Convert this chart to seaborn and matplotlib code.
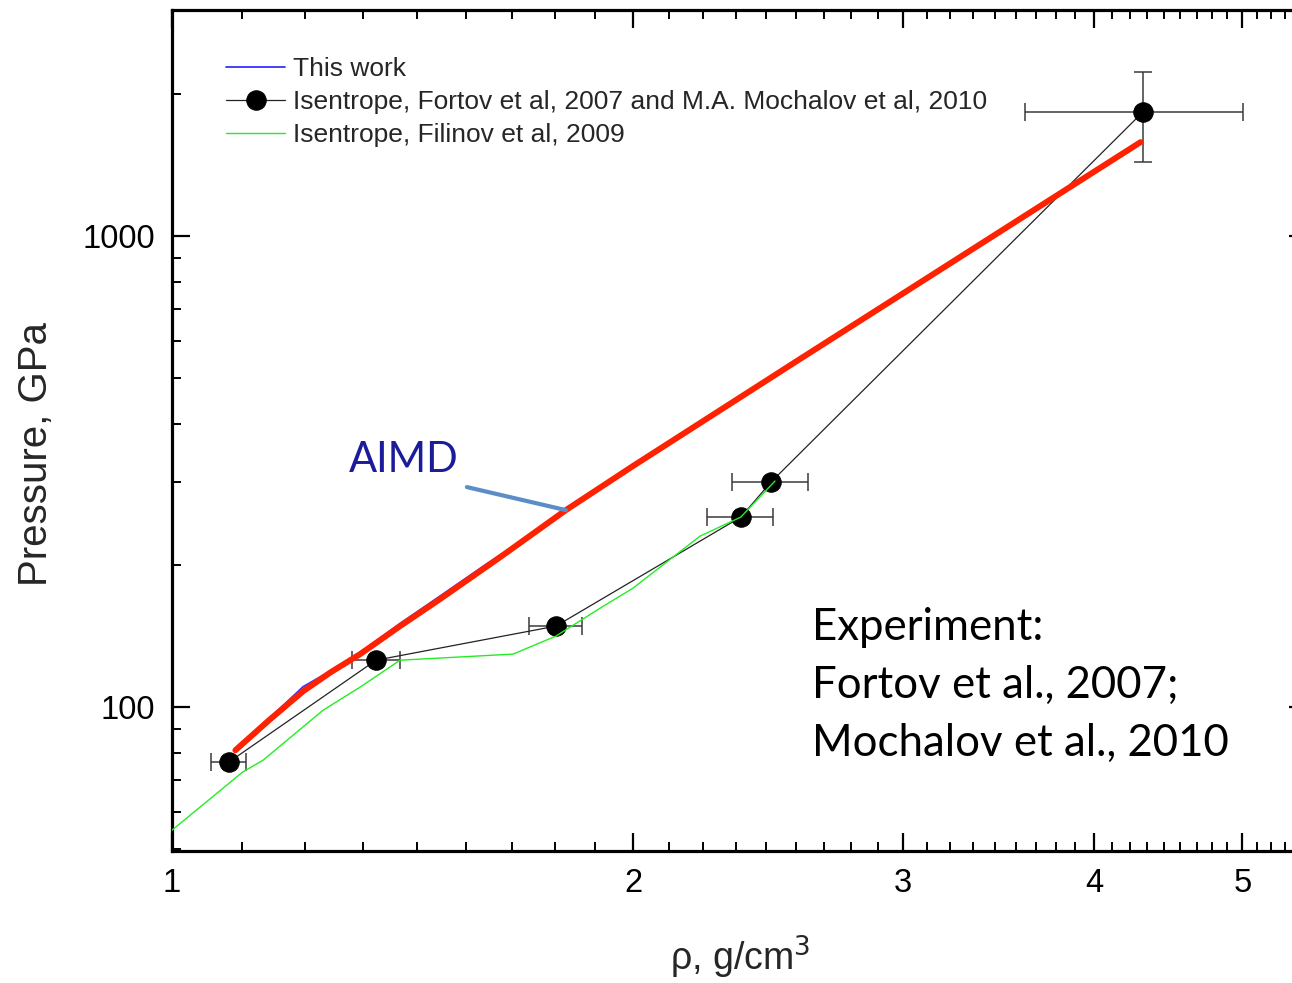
import numpy as np
import pandas as pd
import matplotlib
matplotlib.use("Agg")
import matplotlib.pyplot as plt
from matplotlib.ticker import FixedLocator, NullFormatter, FixedFormatter, LogLocator
import seaborn as sns

# ---------------- data ----------------
# AIMD (red thick curve) and This work (blue thin curve underneath)
aimd_rho = [1.10, 1.157, 1.218, 1.270, 1.327, 1.409, 1.496, 1.638, 1.808, 2.00, 2.57, 4.29]
aimd_p = [81, 93.8, 108.1, 118.7, 129.6, 148.6, 169.5, 208.2, 262, 325, 548, 1583]

this_rho = [1.10, 1.157, 1.218, 1.270, 1.327, 1.409, 1.496, 1.60, 1.70, 1.808, 2.00, 2.57, 4.29]
this_p = [81, 94.5, 110.5, 119.5, 130.5, 150.5, 172, 200, 228, 263, 326, 550, 1583]

# Experiment: Fortov 2007 / Mochalov 2010
exp_rho = [1.089, 1.359, 1.781, 2.352, 2.461, 4.305]
exp_p = [76.4, 125.8, 148.6, 253.2, 300.4, 1834]
exp_rho_err = [0.029, 0.049, 0.070, 0.117, 0.140, 0.70]
exp_p_err = [0, 0, 0, 0, 0, 400]

# Filinov 2009
fil_rho = [1.00, 1.112, 1.147, 1.255, 1.327, 1.409, 1.670, 1.781, 1.904, 2.00, 2.212, 2.352, 2.476]
fil_p = [54.8, 72.8, 77.2, 98.5, 110.3, 125.8, 129.6, 141.5, 162.3, 178.9, 230.7, 253.2, 302]

legend_labels = ["This work",
                 "Isentrope, Fortov et al, 2007 and M.A. Mochalov et al, 2010",
                 "Isentrope, Filinov et al, 2009"]
x_major = [1, 2, 3, 4, 5]
x_major_labels = ["1", "2", "3", "4", "5"]
y_major = [100, 1000]
y_major_labels = ["100", "1000"]

# ---------------- style ----------------
sns.set_theme(style="ticks")
plt.rcParams["font.family"] = ["Liberation Sans", "DejaVu Sans"]

W, H = 1292, 983
fig = plt.figure(figsize=(W / 100, H / 100), dpi=100)
ax_left, ax_right, ax_top, ax_bot = 172, 1307, 10, 851
ax = fig.add_axes([ax_left / W, 1 - ax_bot / H, (ax_right - ax_left) / W, (ax_bot - ax_top) / H])

ax.set_xscale("log")
ax.set_yscale("log")
ax.set_xlim(1.0, 5.51)
ax.set_ylim(49.5, 3020)

df_this = pd.DataFrame({"rho": this_rho, "p": this_p})
df_aimd = pd.DataFrame({"rho": aimd_rho, "p": aimd_p})
df_exp = pd.DataFrame({"rho": exp_rho, "p": exp_p})
df_fil = pd.DataFrame({"rho": fil_rho, "p": fil_p})

# experiment error bars
ax.errorbar(exp_rho, exp_p, xerr=exp_rho_err, yerr=exp_p_err, fmt="none",
            ecolor="#3a3a3a", elinewidth=1.1, capsize=6.5, capthick=1.1, zorder=2)

sns.lineplot(data=df_exp, x="rho", y="p", sort=False, estimator=None, ax=ax,
             color="#222222", lw=0.9, marker="o", markersize=14,
             markeredgecolor="black", markerfacecolor="black",
             label=legend_labels[1], zorder=3)
sns.lineplot(data=df_fil, x="rho", y="p", sort=False, estimator=None, ax=ax,
             color="#22ee22", lw=1.0, label=legend_labels[2], zorder=4)
sns.lineplot(data=df_this, x="rho", y="p", sort=False, estimator=None, ax=ax,
             color="#3333ff", lw=1.3, label=legend_labels[0], zorder=4)
sns.lineplot(data=df_aimd, x="rho", y="p", sort=False, estimator=None, ax=ax,
             color="#ff2200", lw=4.3, label="_nolegend_", zorder=5)

# ticks
ax.xaxis.set_major_locator(FixedLocator(x_major))
ax.xaxis.set_major_formatter(FixedFormatter(x_major_labels))
x_minor = [n + k / 9 for n in range(1, 6) for k in range(1, 9)]
ax.xaxis.set_minor_locator(FixedLocator(x_minor))
ax.xaxis.set_minor_formatter(NullFormatter())
ax.yaxis.set_major_locator(FixedLocator(y_major))
ax.yaxis.set_major_formatter(FixedFormatter(y_major_labels))
ax.yaxis.set_minor_locator(LogLocator(base=10, subs=np.arange(2, 10)))
ax.yaxis.set_minor_formatter(NullFormatter())

ax.tick_params(which="both", direction="in", top=True, right=True, colors="black")
ax.tick_params(which="major", length=13, width=1.6, labelsize=23.5, pad=12)
ax.tick_params(which="minor", length=6.5, width=1.4)
for s in ax.spines.values():
    s.set_linewidth(2.3)
    s.set_color("black")

ax.set_xlabel("ρ, g/cm$^{3}$", fontsize=27)
ax.set_ylabel("Pressure, GPa", fontsize=29)
ax.xaxis.set_label_coords((740 - ax_left) / (ax_right - ax_left), (ax_bot - 934) / (ax_bot - ax_top))
ax.yaxis.set_label_coords((55 - ax_left) / (ax_right - ax_left), (ax_bot - 454) / (ax_bot - ax_top))

# legend
handles, labels = ax.get_legend_handles_labels()
order = [labels.index(l) for l in legend_labels]
leg = ax.legend([handles[i] for i in order], [labels[i] for i in order],
                loc="upper left",
                bbox_to_anchor=((226 - ax_left) / (ax_right - ax_left), 1 - (57 - ax_top) / (ax_bot - ax_top)),
                frameon=False, fontsize=19, handlelength=2.25, handletextpad=0.3,
                labelspacing=0.34, borderpad=0, borderaxespad=0, markerscale=1.0)

# annotations
fig.text(349 / W, 1 - 460 / H, "AIMD", fontsize=30, color="#1c1c9a",
         family=["Lato", "DejaVu Sans"], ha="left", va="center")
ax.annotate("", xy=(1.808, 262), xytext=(1.558, 293.2),
            arrowprops=dict(arrowstyle="-", color="#5b8ec9", lw=3.0, shrinkA=0, shrinkB=0),
            zorder=6)
fig.text(812 / W, 1 - 607 / H, "Experiment:\nFortov et al., 2007;\nMochalov et al., 2010",
         fontsize=31.5, color="black", family=["Lato", "DejaVu Sans"],
         ha="left", va="top", linespacing=1.52)

fig.savefig("out.png", dpi=100)
